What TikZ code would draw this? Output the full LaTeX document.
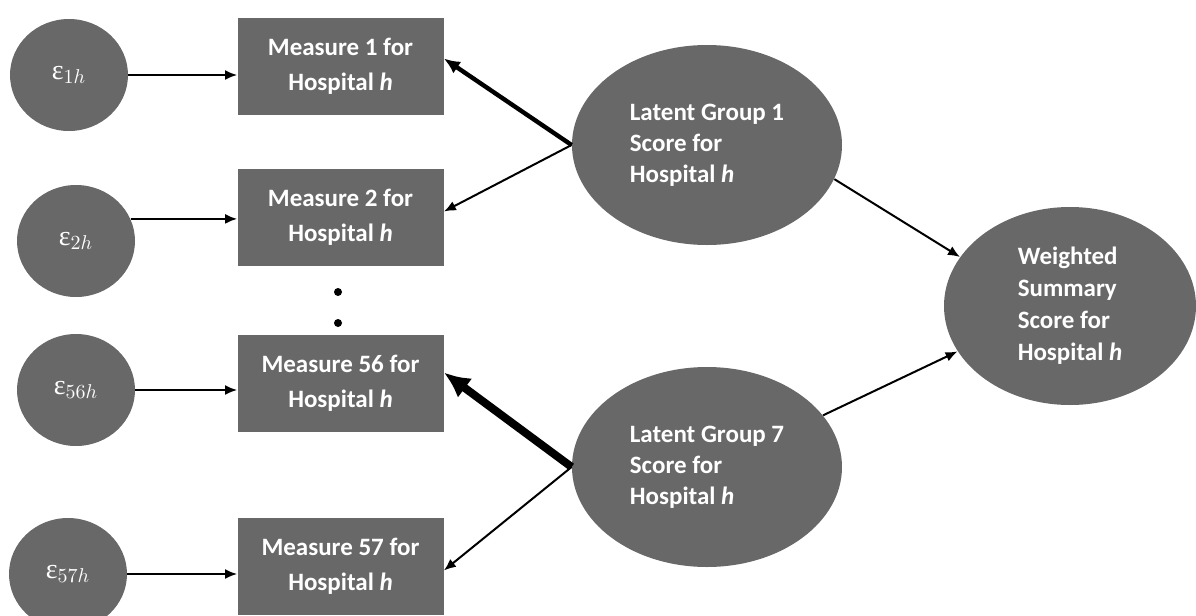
\documentclass[tikz,border=0pt]{standalone}
\usepackage{fontspec}
\setmainfont{Carlito}
\newfontfamily\greekserif{Liberation Serif}
\usepackage{tikz}
\usetikzlibrary{positioning, shapes.geometric, arrows.meta}

\definecolor{boxgray}{RGB}{104,104,104}

\newcommand{\errlabel}[1]{{\greekserif ε}$_{#1h}$}

\tikzset{
    measure/.style={fill=boxgray, text=white, minimum width=103pt, minimum height=48.5pt,
        inner sep=0pt, align=center, font=\fontsize{12.5}{17.5}\selectfont\bfseries},
    errterm/.style={ellipse, fill=boxgray, text=white, minimum width=59pt, minimum height=56pt,
        inner sep=0pt, font=\fontsize{14}{16}\selectfont},
    latent/.style={ellipse, fill=boxgray, text=white, minimum width=135pt, minimum height=100pt,
        inner sep=0pt, align=left, font=\fontsize{12.5}{15.5}\selectfont\bfseries},
    arr/.style={-{Latex[length=6pt,width=5pt]}, line width=1pt},
    arrthick/.style={-{Latex[length=8pt,width=7pt]}, line width=2.2pt},
    arrheavy/.style={-{Latex[length=13pt,width=12pt]}, line width=4pt}
}

\begin{document}
\begin{tikzpicture}[x=0.5pt, y=-0.5pt]
        \useasboundingbox (0,0) rectangle (1196,616);

        \node[measure] (m1) at (340.5,66.5) {Measure 1 for\\Hospital \textit{h}};
        \node[measure] (m2) at (340.5,217.5) {Measure 2 for\\Hospital \textit{h}};
        \node[measure] (m56) at (340.5,383.5) {Measure 56 for\\Hospital \textit{h}};
        \node[measure] (m57) at (340.5,566.5) {Measure 57 for\\Hospital \textit{h}};

        \node[errterm] (e1) at (69,75) {\errlabel{1}};
        \node[errterm] (e2) at (76,241) {\errlabel{2}};
        \node[errterm] (e56) at (76,390) {\errlabel{56}};
        \node[errterm] (e57) at (68,574) {\errlabel{57}};

        \node[latent] (lg1) at (707,145) {Latent Group 1\\Score for\\Hospital \textit{h}};
        \node[latent] (lg7) at (707,467) {Latent Group 7\\Score for\\Hospital \textit{h}};
        \node[latent, minimum width=126pt, minimum height=99pt, font=\fontsize{12.5}{16}\selectfont\bfseries]
            (ws) at (1070,306) {Weighted\\Summary\\Score for\\Hospital \textit{h}};

        \foreach \y in {292, 323}
        \fill (338,\y) circle (2pt);

        \draw[arr] (e1) -- (e1 -| m1.west);
        \draw[arr] (e2.22) -- (e2.22 -| m2.west);
        \draw[arr] (e56) -- (e56 -| m56.west);
        \draw[arr] (e57) -- (e57 -| m57.west);

        \draw[arrthick] (lg1.west) -- ([yshift=4pt]m1.east);
        \draw[arr] (lg1.west) -- ([yshift=3pt]m2.east);
        \draw[arrheavy] (lg7.west) -- ([yshift=5.5pt]m56.east);
        \draw[arr] (lg7.west) -- ([yshift=-2pt]m57.east);

        \draw[arr] (lg1.-15) -- (ws.156);
        \draw[arr] (lg7.24) -- (ws.202);
    \end{tikzpicture}
\end{document}
